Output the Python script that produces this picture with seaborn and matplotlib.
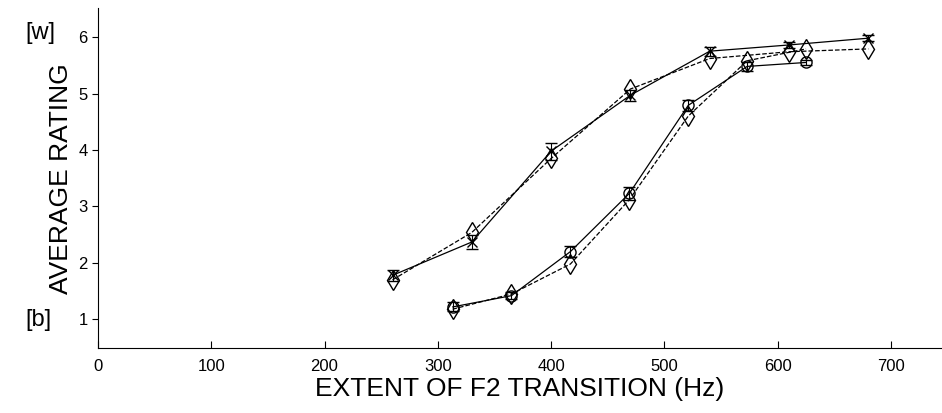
import numpy as np
import pandas as pd
import matplotlib
matplotlib.use("Agg")
import matplotlib.pyplot as plt
import seaborn as sns

# ---------------------------------------------------------------------------
# Dados
# ---------------------------------------------------------------------------
hz_a = [260, 330, 400, 470, 540, 610, 680]
solid_a = [1.78, 2.37, 3.98, 4.97, 5.75, 5.86, 5.98]
err_a = [0.10, 0.12, 0.15, 0.10, 0.08, 0.05, 0.05]
dash_a = [1.70, 2.54, 3.85, 5.08, 5.62, 5.74, 5.79]

hz_b = [313, 365, 417, 469, 521, 573, 625]
solid_b = [1.22, 1.42, 2.20, 3.23, 4.79, 5.48, 5.55]
err_b = [0.08, 0.06, 0.10, 0.12, 0.10, 0.08, 0.05]
dash_b = [1.18, 1.45, 1.98, 3.12, 4.60, 5.58, 5.79]

xticks = [0, 100, 200, 300, 400, 500, 600, 700]
yticks = [1, 2, 3, 4, 5, 6]

sns.set_style("ticks")
plt.rcParams.update({
    "font.family": ["Liberation Sans", "DejaVu Sans"],
    "text.color": "black",
    "axes.labelcolor": "black",
    "axes.edgecolor": "black",
    "xtick.color": "black",
    "ytick.color": "black",
})

df = pd.DataFrame({
    "hz": hz_a + hz_b + hz_a + hz_b,
    "rating": solid_a + solid_b + dash_a + dash_b,
    "serie": ["a_solid"] * 7 + ["b_solid"] * 7 + ["a_dash"] * 7 + ["b_dash"] * 7,
})

fig = plt.figure(figsize=(9.42, 4.13), dpi=100)
ax = fig.add_axes([0.104, 0.157, 0.896, 0.823])

estilos = {
    "a_solid": dict(ls="-", marker="x", ms=7, mfc="black"),
    "b_solid": dict(ls="-", marker="o", ms=8, mfc="none"),
    "a_dash": dict(ls="--", marker="d", ms=10, mfc="none"),
    "b_dash": dict(ls="--", marker="d", ms=10, mfc="none"),
}
for nome, st in estilos.items():
    sub = df[df["serie"] == nome]
    sns.lineplot(data=sub, x="hz", y="rating", ax=ax, color="black", lw=0.9,
                 linestyle=st["ls"], marker=st["marker"], markersize=st["ms"],
                 markerfacecolor=st["mfc"], markeredgecolor="black",
                 markeredgewidth=1.0, legend=False)

ax.errorbar(hz_a, solid_a, yerr=err_a, fmt="none", ecolor="black", elinewidth=0.8, capsize=4)
ax.errorbar(hz_b, solid_b, yerr=err_b, fmt="none", ecolor="black", elinewidth=0.8, capsize=4)

ax.set_xlim(0, 745)
ax.set_ylim(0.49, 6.51)
ax.set_xticks(xticks)
ax.set_yticks(yticks)
ax.tick_params(axis="x", direction="in", length=5, labelsize=12, pad=8)
ax.tick_params(axis="y", direction="out", length=4, labelsize=12)
sns.despine(ax=ax)
ax.set_xlabel("EXTENT OF F2 TRANSITION (Hz)", fontsize=19, labelpad=2)
ax.set_ylabel("AVERAGE RATING", fontsize=19, labelpad=4)

fig.text(0.027, 0.92, "[w]", fontsize=17, va="center", ha="left")
fig.text(0.027, 0.225, "[b]", fontsize=17, va="center", ha="left")

fig.savefig("out.png", dpi=100)
